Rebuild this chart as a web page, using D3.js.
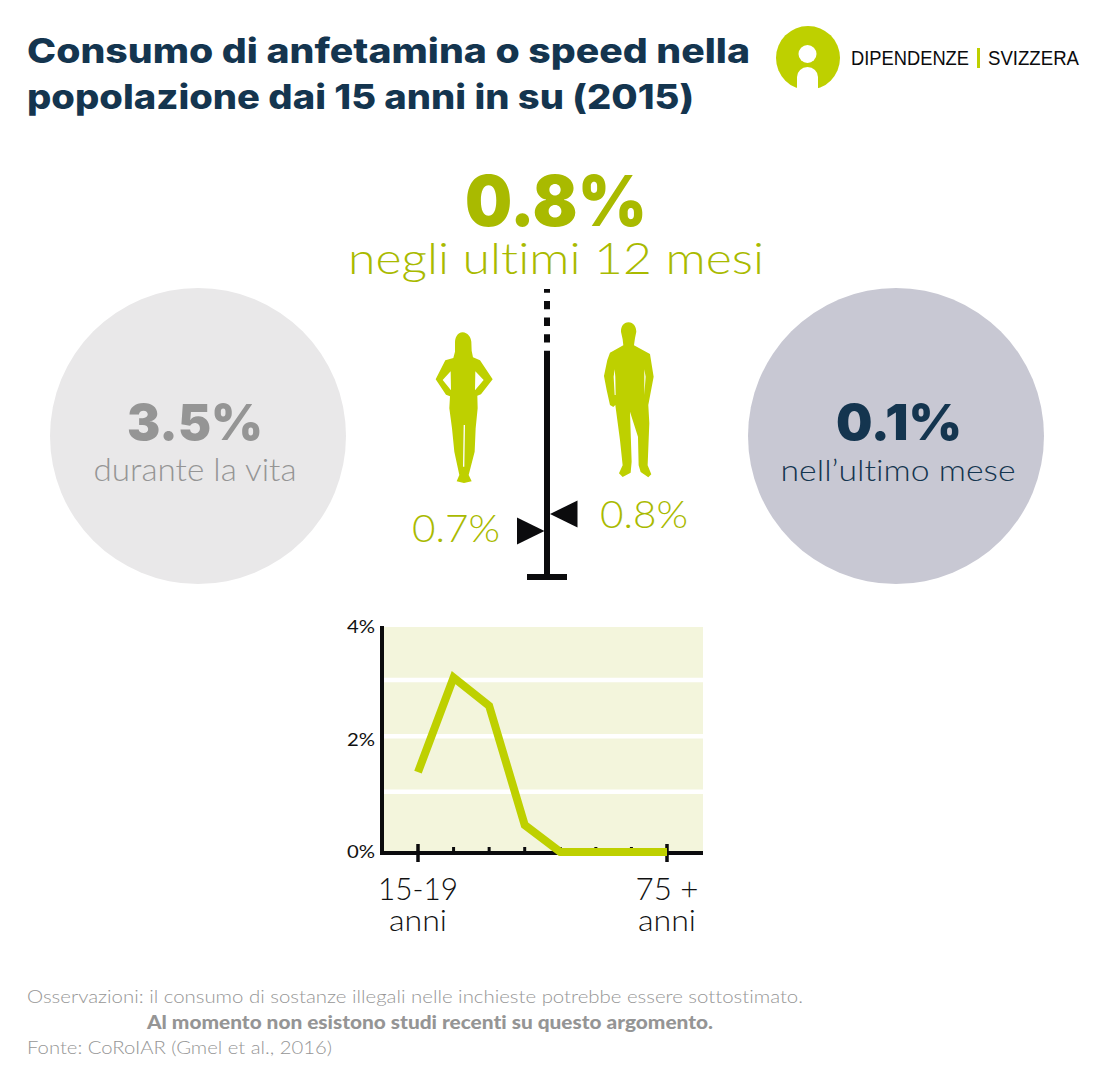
<!DOCTYPE html>
<html>
<head>
<meta charset="utf-8">
<script src="https://cdn.jsdelivr.net/npm/d3@7"></script>
<style>
body { margin: 0; background: #fff; }
svg { display: block; }
text { font-variant-ligatures: none; }
</style>
</head>
<body>
<div class="canvas"></div>
<script>
// age curve
const ageGroups = ["15-19", "20-24", "25-34", "35-44", "45-54", "55-64", "65-74", "75 +"];
const ageValues = [1.42, 3.1, 2.6, 0.48, 0, 0, 0, 0];
const yTicks = [0, 2, 4];
const gridValues = [1.07, 2.06, 3.06];
// sex markers on the stem
const sexValues = [0.7, 0.8];

const green = "#bed000";
const greenText = "#a9ba00";
const navy = "#14354f";
const black = "#0b0b0d";

const sans = "Lato, 'Open Sans', sans-serif";
const heavy = "Inter, 'Open Sans', sans-serif";
const narrow = "'Liberation Sans Narrow', 'Liberation Sans'";

const svg = d3.select('.canvas').append('svg')
    .attr("width", 1096)
    .attr('height', 1088);

const label = (x, y, str, size, fill, o = {}) => svg.append('text')
    .attr("x", x)
    .attr("y", y)
    .attr("font-family", o.family || sans)
    .attr("font-weight", o.weight || 300)
    .attr("font-size", size)
    .attr("fill", fill)
    .attr("text-anchor", o.anchor || "start")
    .attr("textLength", o.len || null)
    .attr("lengthAdjust", o.len ? "spacingAndGlyphs" : null)
    .text(str);

// title
label(27, 63, "Consumo di anfetamina o speed nella", 34, navy, { family: heavy, weight: 800, len: 723 });
label(27, 109, "popolazione dai 15 anni in su (2015)", 34, navy, { family: heavy, weight: 800, len: 667 });

// logo
const logo = svg.append('g');
logo.append('circle').attr("cx", 808).attr("cy", 58).attr("r", 32).attr("fill", green);
logo.append('circle').attr("cx", 807.500).attr("cy", 54).attr("r", 9).attr("fill", "#fff");
logo.append('path').attr("d", "M797 91V77a10.500 10 0 0 1 21 0V91Z").attr("fill", "#fff");
logo.append('rect').attr("x", 977).attr("y", 48).attr("width", 3).attr("height", 20).attr("fill", green);
label(851, 65, "DIPENDENZE", 21, black, { family: narrow, weight: 400, len: 118 });
label(988, 65, "SVIZZERA", 21, black, { family: narrow, weight: 400, len: 91 });

// headline
label(556, 226, "0.8%", 70, greenText, { family: heavy, weight: 900, anchor: "middle", len: 182 });
label(556, 274, "negli ultimi 12 mesi", 44, greenText, { anchor: "middle", len: 416 });

// side circles
svg.append('circle').attr("cx", 198).attr("cy", 436).attr("r", 148).attr("fill", "#e9e8e9");
svg.append('circle').attr("cx", 896).attr("cy", 436).attr("r", 148).attr("fill", "#c8c8d3");
label(195, 440, "3.5%", 50, "#959595", { family: heavy, weight: 900, anchor: "middle", len: 136 });
label(195, 481, "durante la vita", 31, "#959595", { anchor: "middle", len: 203 });
label(899, 440, "0.1%", 50, navy, { family: heavy, weight: 900, anchor: "middle", len: 126 });
label(898, 481, "nell\u2019ultimo mese", 30, navy, { anchor: "middle", len: 235 });

// stem
const stemX = 547;
svg.append('line')
    .attr("x1", stemX).attr("x2", stemX).attr("y1", 355).attr("y2", 577)
    .attr("stroke", black).attr("stroke-width", 6);
svg.append('line')
    .attr("x1", stemX).attr("x2", stemX).attr("y1", 289).attr("y2", 355)
    .attr("stroke", black).attr("stroke-width", 6)
    .attr("stroke-dasharray", "8.300 8.300")
    .attr("stroke-dashoffset", 4.600);
svg.append('rect').attr("x", 527).attr("y", 574).attr("width", 40).attr("height", 6).attr("fill", black);

const stemY = d3.scaleLinear().domain(sexValues).range([531, 514]);
svg.selectAll('.marker')
    .data(sexValues)
    .enter().append('path')
    .attr("class", "marker")
    .attr("fill", black)
    .attr("d", (d, i) => {
        const y = stemY(d);
        return i === 0
            ? `M544.500 ${y}L517 ${y - 13.500}V${y + 13.500}Z`
            : `M550 ${y}L577.500 ${y - 13.500}V${y + 13.500}Z`;
    });

label(412, 542, `${sexValues[0]}%`, 38, greenText, { len: 88 });
label(600, 528, `${sexValues[1]}%`, 38, greenText, { len: 88 });

// silhouettes, traced in a 3x frame
const figures = svg.append('g')
    .attr("transform", "translate(400,280) scale(0.3333)")
    .attr("fill", green)
    .attr("fill-rule", "evenodd");
figures.append('path').attr("d",
    "M188 157C172 158 165 172 165 190L165 215L160 234L136 241L107 298L138 344L150 349L148 385L156 445L163 515L178 585L170 604L192 609L215 604L206 585L224 515L227 445L233 385L232 347L243 343L278 298L240 241L219 232L215 212L214 185C212 170 203 158 188 157Z" +
    "M152 274L128 300L153 331Z M226 274L251 300L225 331Z M191 435L189 560L193 560L195 435Z");
figures.append('path').attr("d",
    "M686 127C670 127 663 140 663 155L668 178L670 196L630 218L622 240L612 288L620 330L630 375L640 381L646 375L660 480L668 556L657 580L668 591L692 578L695 545L690 395L714 470L716 556L722 576L745 592L754 583L743 556L748 430L745 375L761 290L750 222L702 196L705 175L709 155C709 140 700 127 686 127Z" +
    "M644 268L641 290L644 345L647 345L646 290Z M733 268L733 345L737 290Z");

// age chart
const x = d3.scalePoint().domain(ageGroups).range([418, 667]);
const y = d3.scaleLinear().domain([0, 4]).range([852, 627]);

svg.append('rect')
    .attr("x", 382).attr("y", y(4))
    .attr("width", 321).attr("height", y(0) - y(4))
    .attr("fill", "#f3f5dc");

svg.selectAll('.grid')
    .data(gridValues)
    .enter().append('line')
    .attr("class", "grid")
    .attr("x1", 382).attr("x2", 703)
    .attr("y1", d => y(d)).attr("y2", d => y(d))
    .attr("stroke", "#fff").attr("stroke-width", 4.500);

// axes
const axisGroup = svg.append('g');
axisGroup.append('line')
    .attr("x1", 382).attr("x2", 382).attr("y1", y(4) - 1).attr("y2", y(0) + 3)
    .attr("stroke", black).attr("stroke-width", 4);
axisGroup.append('line')
    .attr("x1", 380).attr("x2", 703).attr("y1", y(0) + 1).attr("y2", y(0) + 1)
    .attr("stroke", black).attr("stroke-width", 4);

const isEnd = i => i === 0 || i === ageGroups.length - 1;
svg.selectAll('.tick-x')
    .data(ageGroups)
    .enter().append('line')
    .attr("class", "tick-x")
    .attr("x1", d => x(d)).attr("x2", d => x(d))
    .attr("y1", (d, i) => isEnd(i) ? y(0) - 8 : y(0) - 5)
    .attr("y2", (d, i) => isEnd(i) ? y(0) + 10 : y(0))
    .attr("stroke", black)
    .attr("stroke-width", (d, i) => isEnd(i) ? 3.500 : 3);

yTicks.forEach(t => {
    label(375, y(t) + 6, `${t}%`, 18, "#111", { anchor: "end", len: 28, weight: 400 });
});

const line = d3.line()
    .x((d, i) => x(ageGroups[i]))
    .y(d => y(d))
    .curve(d3.curveLinear);

svg.append('path')
    .datum(ageValues)
    .attr("d", line)
    .attr("fill", "none")
    .attr("stroke", green)
    .attr("stroke-width", 8)
    .attr("stroke-linejoin", "miter");

// age labels, two lines each
const ageLabel = (cx, str, len) => {
    const t = svg.append('text')
        .attr("font-family", sans)
        .attr("font-weight", 300)
        .attr("fill", "#111")
        .attr("text-anchor", "middle");
    t.append('tspan').attr("x", cx).attr("y", 900).attr("font-size", 31)
        .attr("textLength", len).attr("lengthAdjust", "spacingAndGlyphs").text(str);
    t.append('tspan').attr("x", cx).attr("y", 931).attr("font-size", 29)
        .attr("textLength", 58).attr("lengthAdjust", "spacingAndGlyphs").text("anni");
};
ageLabel(418, ageGroups[0], 80);
ageLabel(667, ageGroups[ageGroups.length - 1], 63);

// footer
label(27, 1003, "Osservazioni: il consumo di sostanze illegali nelle inchieste potrebbe essere sottostimato.", 18, "#969696", { len: 776 });
label(147, 1029, "Al momento non esistono studi recenti su questo argomento.", 18, "#959595", { weight: 900, len: 566 });
label(27, 1054, "Fonte: CoRoIAR (Gmel et al., 2016)", 18, "#969696", { len: 305 });
</script>
</body>
</html>
